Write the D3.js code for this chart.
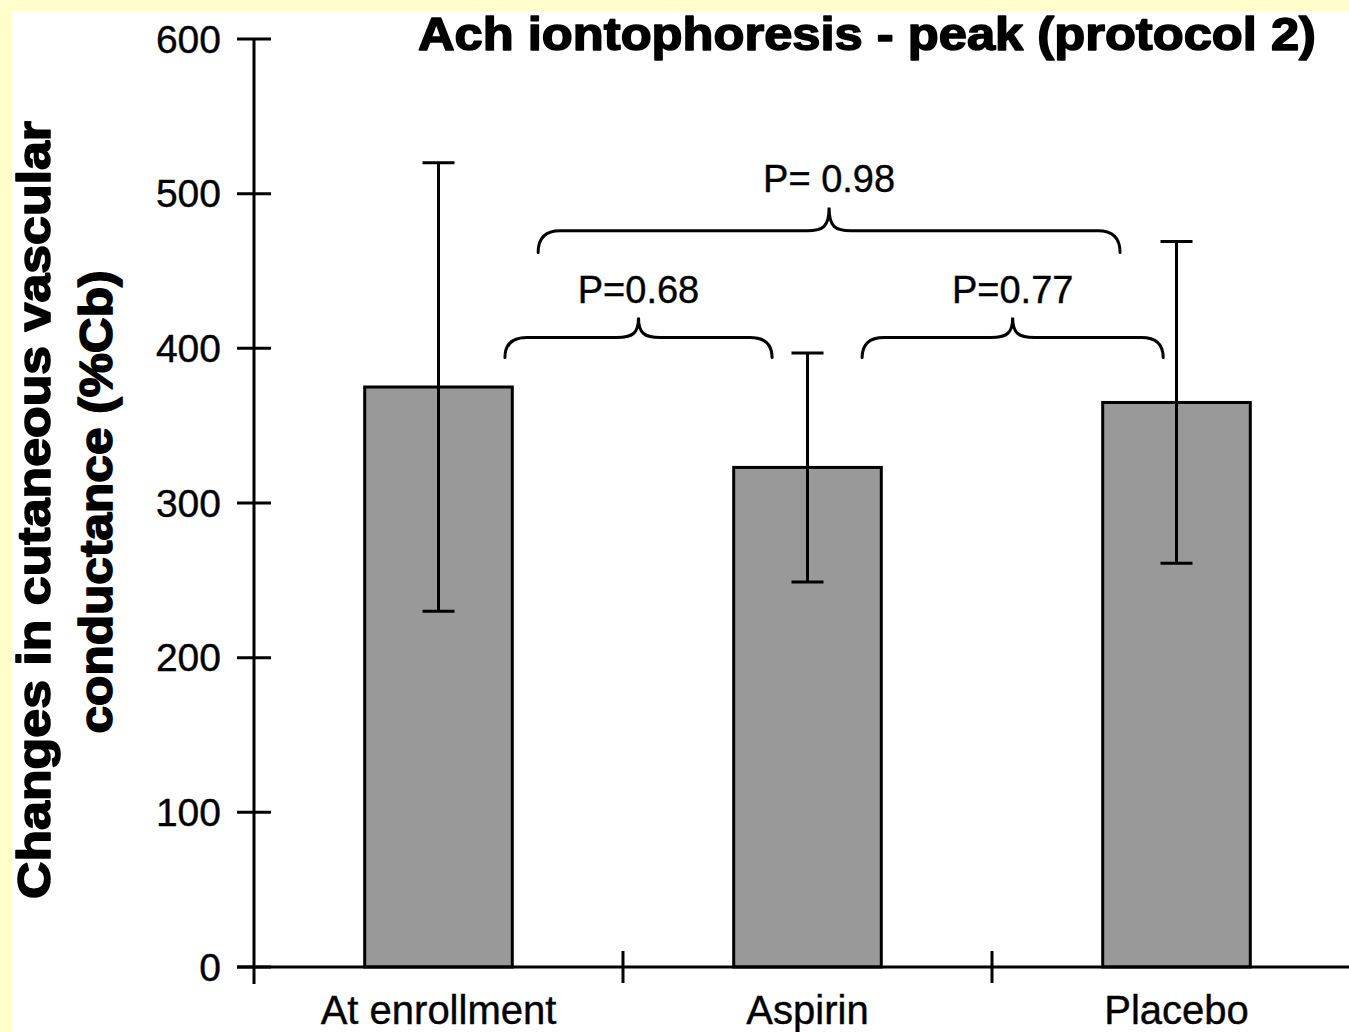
<!DOCTYPE html>
<html>
<head>
<meta charset="utf-8">
<script src="https://cdn.jsdelivr.net/npm/d3@7"></script>
<style>
  body { margin: 0; background: #ffffcc; }
  svg { display: block; }
  text { font-family: "Liberation Sans", Arial, sans-serif; fill: #000; }
  .heavy { font-weight: bold; stroke: #000; stroke-width: 1.6px; stroke-linejoin: round; }
  .plain { stroke: #000; stroke-width: 0.4px; }
</style>
</head>
<body>
<svg width="1349" height="1032"></svg>
<script>
var categories = ["At enrollment", "Aspirin", "Placebo"];
var means = [375, 323, 365];
var errs = [145, 74, 104];
var yTicks = [0, 100, 200, 300, 400, 500, 600];

// brace annotations: category position (0..3 in band steps), value levels
var braceFrom = [0.68, 1.648, 0.77];
var braceTo = [1.404, 2.464, 2.347];
var braceEnd = [394, 394, 462];
var braceLevel = [407, 407, 476];
var braceTip = [420, 420, 491];
var braceText = ["P=0.68", "P=0.77", "P= 0.98"];
var braceTextY = [438, 438, 510];

var svg = d3.select("svg"),
  width = +svg.attr("width"),
  height = +svg.attr("height");

svg.append("rect")
  .attr("x", 12).attr("y", 11)
  .attr("width", width - 12).attr("height", height - 11)
  .attr("fill", "#fff");

var x0 = 254, step = 369;
var x = d3.scaleBand()
  .domain(categories)
  .range([x0, x0 + step * categories.length])
  .paddingInner(0.6)
  .paddingOuter(0.3);

var xPos = d3.scaleLinear().domain([0, categories.length]).range([x0, x0 + step * categories.length]);

var y = d3.scaleLinear().domain([0, 600]).range([967, 39]);

// bars
svg.append("g")
  .selectAll("rect")
  .data(categories)
  .enter()
  .append("rect")
  .attr("x", function (d) { return x(d); })
  .attr("y", function (d, i) { return y(means[i]); })
  .attr("width", x.bandwidth())
  .attr("height", function (d, i) { return y(0) - y(means[i]); })
  .attr("fill", "#999999")
  .attr("stroke", "#000")
  .attr("stroke-width", 3);

// error bars
var eb = svg.append("g").attr("stroke", "#000").attr("stroke-width", 3);
categories.forEach(function (d, i) {
  var cx = x(d) + x.bandwidth() / 2;
  eb.append("line")
    .attr("x1", cx).attr("x2", cx)
    .attr("y1", y(means[i] + errs[i])).attr("y2", y(means[i] - errs[i]));
  [means[i] + errs[i], means[i] - errs[i]].forEach(function (v) {
    eb.append("line")
      .attr("x1", cx - 16).attr("x2", cx + 16)
      .attr("y1", y(v)).attr("y2", y(v));
  });
});

// y axis
var ya = svg.append("g").attr("stroke", "#000").attr("stroke-width", 3);
ya.append("line")
  .attr("x1", x0).attr("x2", x0)
  .attr("y1", y(600)).attr("y2", y(0) + 17);
ya.selectAll(".t")
  .data(yTicks)
  .enter()
  .append("line")
  .attr("x1", x0 - 17).attr("x2", x0 + 17)
  .attr("y1", function (d) { return y(d); })
  .attr("y2", function (d) { return y(d); });

svg.append("g")
  .selectAll("text")
  .data(yTicks)
  .enter()
  .append("text")
  .attr("class", "plain")
  .attr("x", 221)
  .attr("y", function (d) { return y(d); })
  .attr("dy", "0.35em")
  .attr("text-anchor", "end")
  .style("font-size", "39px")
  .text(function (d) { return d; });

// x axis
var xa = svg.append("g").attr("stroke", "#000").attr("stroke-width", 3);
xa.append("line")
  .attr("x1", x0 - 17).attr("x2", width)
  .attr("y1", y(0)).attr("y2", y(0));
xa.selectAll(".t")
  .data(d3.range(1, categories.length + 1))
  .enter()
  .append("line")
  .attr("x1", function (d) { return xPos(d); })
  .attr("x2", function (d) { return xPos(d); })
  .attr("y1", y(0) - 16).attr("y2", y(0) + 16);

svg.append("g")
  .selectAll("text")
  .data(categories)
  .enter()
  .append("text")
  .attr("class", "plain")
  .attr("x", function (d) { return x(d) + x.bandwidth() / 2; })
  .attr("y", 1024)
  .attr("text-anchor", "middle")
  .style("font-size", "40px")
  .text(function (d) { return d; });

// braces
var bg = svg.append("g")
  .attr("fill", "none")
  .attr("stroke", "#000")
  .attr("stroke-width", 3)
  .attr("stroke-linecap", "round");

braceText.forEach(function (t, i) {
  var a = xPos(braceFrom[i]), b = xPos(braceTo[i]), m = (a + b) / 2;
  var ye = y(braceEnd[i]), yh = y(braceLevel[i]), yt = y(braceTip[i]);
  var r = 22;
  var p = d3.path();
  p.moveTo(a, ye);
  p.quadraticCurveTo(a, yh, a + r, yh);
  p.lineTo(m - r, yh);
  p.bezierCurveTo(m - 6, yh, m, yh - 4, m, yt);
  p.bezierCurveTo(m, yh - 4, m + 6, yh, m + r, yh);
  p.lineTo(b - r, yh);
  p.quadraticCurveTo(b, yh, b, ye);
  bg.append("path").attr("d", p.toString());

  svg.append("text")
    .attr("class", "plain")
    .attr("x", m)
    .attr("y", y(braceTextY[i]))
    .attr("dy", "0.35em")
    .attr("text-anchor", "middle")
    .style("font-size", "38px")
    .text(t);
});

// title
svg.append("text")
  .attr("class", "heavy")
  .attr("x", 867)
  .attr("y", 50)
  .attr("text-anchor", "middle")
  .attr("textLength", 898)
  .attr("lengthAdjust", "spacingAndGlyphs")
  .style("font-size", "47px")
  .text("Ach iontophoresis - peak (protocol 2)");

// y label
svg.append("text")
  .attr("class", "heavy")
  .attr("transform", "translate(50,510) rotate(-90)")
  .attr("text-anchor", "middle")
  .attr("textLength", 778)
  .attr("lengthAdjust", "spacingAndGlyphs")
  .style("font-size", "46px")
  .text("Changes in cutaneous vascular");
svg.append("text")
  .attr("class", "heavy")
  .attr("transform", "translate(112,502) rotate(-90)")
  .attr("text-anchor", "middle")
  .attr("textLength", 463)
  .attr("lengthAdjust", "spacingAndGlyphs")
  .style("font-size", "46px")
  .text("conductance (%Cb)");
</script>
</body>
</html>
